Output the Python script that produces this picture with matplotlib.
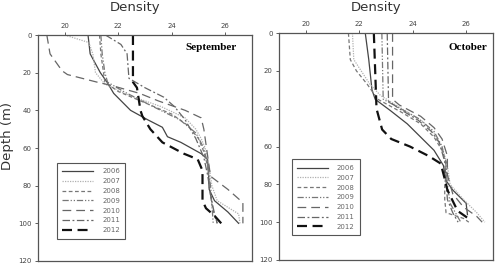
import matplotlib
matplotlib.use('Agg')
import matplotlib.pyplot as plt

years = ['2006', '2007', '2008', '2009', '2010', '2011', '2012']

# September profiles: (depth, density)
sep_depth = {
    '2006': [0, 10, 20, 25, 31, 40, 45, 49, 54, 57, 63, 66, 75, 82, 88, 94, 100],
    '2007': [0, 4, 10, 20, 26, 32, 38, 44, 50, 55, 60, 70, 80, 88, 95, 100],
    '2008': [0, 10, 20, 25, 30, 36, 42, 48, 55, 62, 70, 80, 90, 96, 100],
    '2009': [0, 10, 20, 25, 30, 38, 45, 52, 60, 70, 80, 90, 100],
    '2010': [0, 10, 19, 21, 25, 27, 31, 35, 40, 44, 50, 60, 70, 75, 82, 89, 95, 100],
    '2011': [0, 5, 10, 23, 28, 33, 38, 45, 55, 65, 75, 85, 95, 100],
    '2012': [0, 25, 28, 40, 43, 50, 57, 63, 66, 72, 88, 92, 96, 100],
}
sep_dens = {
    '2006': [20.87, 20.95, 21.33, 21.58, 21.83, 22.46, 23.1, 23.65, 23.84, 24.34, 25.1, 25.34, 25.38, 25.4, 25.6, 26.1, 26.5],
    '2007': [20.0, 20.9, 21.05, 21.15, 21.5, 22.4, 23.6, 24.5, 24.9, 25.1, 25.25, 25.4, 25.5, 25.7, 26.5, 26.55],
    '2008': [21.3, 21.35, 21.45, 21.5, 22.0, 23.0, 24.0, 24.6, 25.0, 25.2, 25.35, 25.4, 25.5, 25.6, 25.7],
    '2009': [21.35, 21.4, 21.5, 21.6, 22.2, 23.3, 24.3, 24.9, 25.2, 25.35, 25.45, 25.5, 25.55],
    '2010': [19.33, 19.45, 19.9, 20.1, 21.2, 21.8, 22.8, 23.5, 24.5, 25.1, 25.2, 25.3, 25.4, 25.45, 26.1, 26.66, 26.66, 26.66],
    '2011': [21.52, 22.1, 22.33, 22.4, 23.0, 23.7, 24.1, 24.5, 24.9, 25.2, 25.35, 25.45, 25.6, 25.7],
    '2012': [22.55, 22.55, 22.7, 22.83, 22.9, 23.2, 23.65, 24.45, 24.97, 25.15, 25.15, 25.28, 25.6, 25.85],
}

# October profiles
oct_depth = {
    '2006': [0, 14, 30, 35, 41, 48, 55, 62, 70, 78, 83, 90, 96],
    '2007': [0, 14, 27, 33, 40, 47, 53, 60, 70, 80, 88, 95, 100],
    '2008': [0, 14, 20, 27, 35, 42, 48, 55, 62, 70, 80, 88, 95, 98, 100],
    '2009': [0, 35, 38, 45, 52, 60, 70, 80, 90, 95, 100],
    '2010': [0, 35, 38, 44, 50, 56, 65, 75, 85, 92, 97, 100],
    '2011': [0, 36, 40, 46, 52, 58, 68, 78, 88, 95, 100],
    '2012': [0, 40, 51, 56, 60, 65, 69, 76, 83, 94, 99],
}
oct_dens = {
    '2006': [22.23, 22.36, 22.48, 22.6, 23.17, 23.8, 24.3, 24.8, 25.15, 25.25, 25.5, 26.0, 26.05],
    '2007': [21.75, 21.8, 22.4, 22.8, 23.6, 24.4, 24.8, 25.1, 25.3, 25.4, 25.9, 26.4, 26.7],
    '2008': [21.6, 21.67, 21.9, 22.3, 22.7, 23.6, 24.3, 24.8, 25.1, 25.3, 25.2, 25.2, 25.25, 25.9, 26.1],
    '2009': [22.85, 22.9, 23.3, 24.2, 24.8, 25.1, 25.25, 25.3, 25.4, 25.6, 25.8],
    '2010': [23.25, 23.25, 23.5, 24.3, 24.8, 25.1, 25.3, 25.3, 25.5, 25.9, 26.4, 26.6],
    '2011': [23.05, 23.1, 23.5, 24.2, 24.7, 25.0, 25.2, 25.25, 25.3, 25.5, 25.7],
    '2012': [22.55, 22.65, 22.86, 23.2, 23.9, 24.6, 25.05, 25.18, 25.3, 25.68, 26.18],
}

styles = {
    '2006': dict(color='#444444', lw=0.9, ls='-'),
    '2007': dict(color='#b0b0b0', lw=0.9, ls=(0, (1, 1))),
    '2008': dict(color='#777777', lw=0.9, ls=(0, (3, 2))),
    '2009': dict(color='#777777', lw=0.9, ls=(0, (5, 1.5, 1, 1.5, 1, 1.5))),
    '2010': dict(color='#666666', lw=0.9, ls=(0, (7, 4))),
    '2011': dict(color='#666666', lw=0.9, ls=(0, (6, 2, 1.5, 2))),
    '2012': dict(color='#111111', lw=1.6, ls=(0, (4.5, 2.5))),
}

fig = plt.figure(figsize=(4.98, 2.66), dpi=100)
ax1 = fig.add_axes([0.0763, 0.0188, 0.4297, 0.8496])
ax2 = fig.add_axes([0.560, 0.0226, 0.4297, 0.853])


def panel(ax, depth, dens, month, leg_pos, month_pos):
    for y in years:
        ax.plot(dens[y], depth[y], label=y, **styles[y])
    ax.set_xlim(19, 27)
    ax.set_ylim(120, 0)
    ax.set_xticks([20, 22, 24, 26])
    ax.set_yticks([0, 20, 40, 60, 80, 100, 120])
    ax.xaxis.tick_top()
    ax.tick_params(labelsize=5, length=2.5, width=0.6, colors='#444444', pad=2)
    for s in ax.spines.values():
        s.set_color('#555555')
        s.set_linewidth(0.9)
    ax.text(month_pos[0], month_pos[1], month, transform=ax.transAxes,
            ha='right', va='center', family='Liberation Serif',
            fontweight='bold', fontsize=8)
    leg = ax.legend(loc='lower left', bbox_to_anchor=leg_pos, fontsize=5,
                    handlelength=4.4, labelspacing=0.55, borderpad=0.8,
                    handletextpad=1.3, fancybox=False, framealpha=1,
                    edgecolor='#555555', labelcolor='#666666')
    leg.get_frame().set_linewidth(0.8)


panel(ax1, sep_depth, sep_dens, 'September', (0.072, 0.083), (0.93, 0.944))
panel(ax2, oct_depth, oct_dens, 'October', (0.043, 0.093), (0.973, 0.935))

fig.text(0.271, 0.972, 'Density', ha='center', va='center', fontsize=9.5, color='#333333')
fig.text(0.756, 0.972, 'Density', ha='center', va='center', fontsize=9.5, color='#333333')
fig.text(0.016, 0.49, 'Depth (m)', ha='center', va='center', rotation=90, fontsize=9.5, color='#333333')

fig.savefig('out.png', dpi=100)
